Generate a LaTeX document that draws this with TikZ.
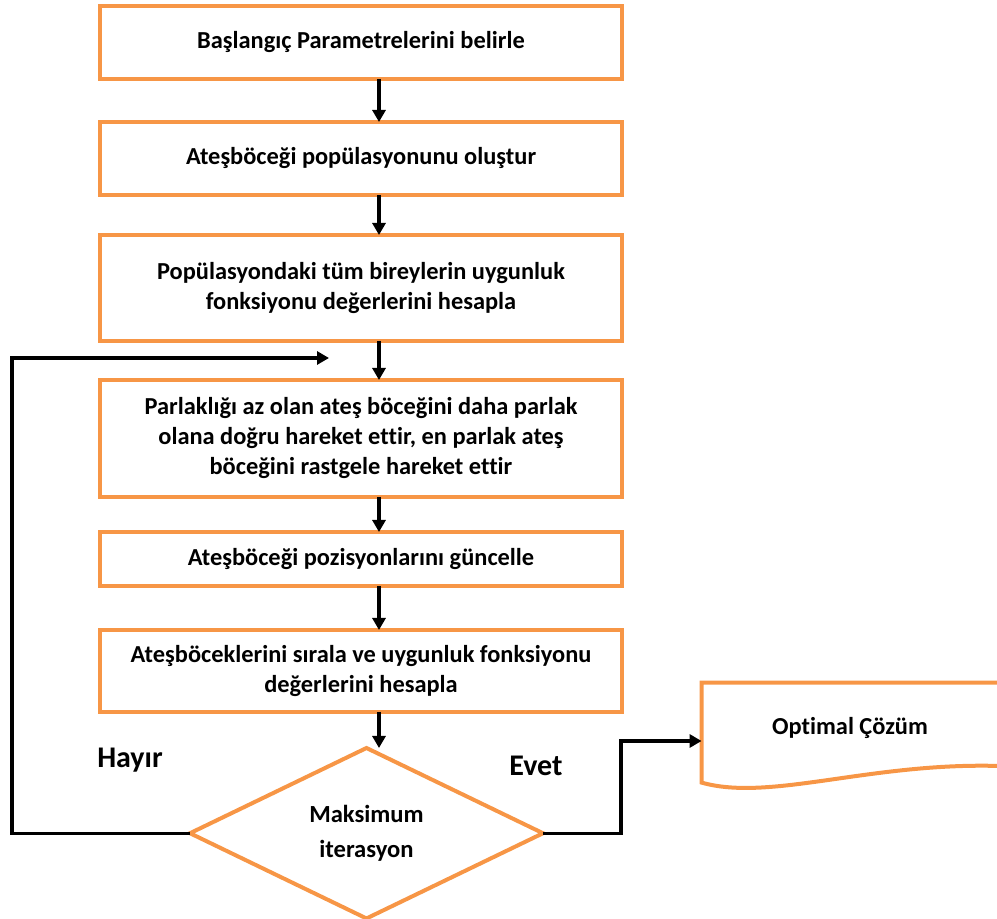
\documentclass[tikz,border=0pt]{standalone}
\usepackage{fontspec}
\setmainfont{Carlito}[Ligatures=NoCommon]
\usetikzlibrary{positioning,arrows.meta,shapes.geometric}
\definecolor{boxorange}{HTML}{F79646}

\begin{document}
\begin{tikzpicture}[
  x=0.5pt, y=-0.5pt,
  font=\fontsize{12.2}{15}\selectfont\bfseries,
  box/.style={draw=boxorange, line width=2pt, outer sep=0pt, align=center, minimum width=261pt, inner sep=3pt},
  dec/.style={draw=boxorange, line width=2pt, outer sep=0pt, diamond, align=center, minimum width=176.5pt, minimum height=83.5pt, inner sep=0pt, font=\fontsize{12.3}{17.5}\selectfont\bfseries},
  arr/.style={-{Triangle[length=6pt,width=6.5pt]}, line width=1.6pt},
  lbl/.style={font=\fontsize{15}{18}\selectfont\bfseries}
]
\useasboundingbox (0,0) rectangle (997,919);
\node[box, minimum height=36.5pt] (init) at (361,42.5) {Başlangıç Parametrelerini belirle};
\node[box, minimum height=36.5pt, below=21.5pt of init] (pop) {Ateşböceği popülasyonunu oluştur};
\node[box, minimum height=53pt, below=20pt of pop] (fit) {Popülasyondaki tüm bireylerin uygunluk\\fonksiyonu değerlerini hesapla};
\node[box, minimum height=58.5pt, below=19.5pt of fit] (move) {Parlaklığı az olan ateş böceğini daha parlak\\olana doğru hareket ettir, en parlak ateş\\böceğini rastgele hareket ettir};
\node[box, minimum height=27pt, below=17.5pt of move] (upd) {Ateşböceği pozisyonlarını güncelle};
\node[box, minimum height=41pt, below=22pt of upd] (sort) {Ateşböceklerini sırala ve uygunluk fonksiyonu\\değerlerini hesapla};
\node[dec, below=18pt of sort, xshift=2.75pt] (maxit) {Maksimum\\iterasyon};
\node[minimum width=148pt, minimum height=45pt, font=\fontsize{12.2}{14}\selectfont\bfseries] (opt) at (850,728) {Optimal Çözüm};
\draw[draw=boxorange, line width=2pt] (opt.north east) -- (opt.north west) -- ++(0,100)
  .. controls (770,802) and (870,762) .. (1000,766);

\coordinate (ax) at (379,0);
\foreach \a/\b in {init/pop, pop/fit, fit/move, move/upd, upd/sort, sort/maxit}
  \draw[arr] (\a.south -| ax) -- (\b.north -| ax);

\coordinate (lc) at (12,0);
\coordinate (back) at (329,358);
\draw[arr] (maxit.west) -- (maxit.west -| lc) |- (back);
\coordinate (yes) at (621,741);
\draw[arr] (maxit.east) -| (yes) -- (yes -| opt.west);

\node[lbl] (no) at (130,760) {Hayır};
\node[lbl] (ok) at (536,766) {Evet};
\end{tikzpicture}
\end{document}
